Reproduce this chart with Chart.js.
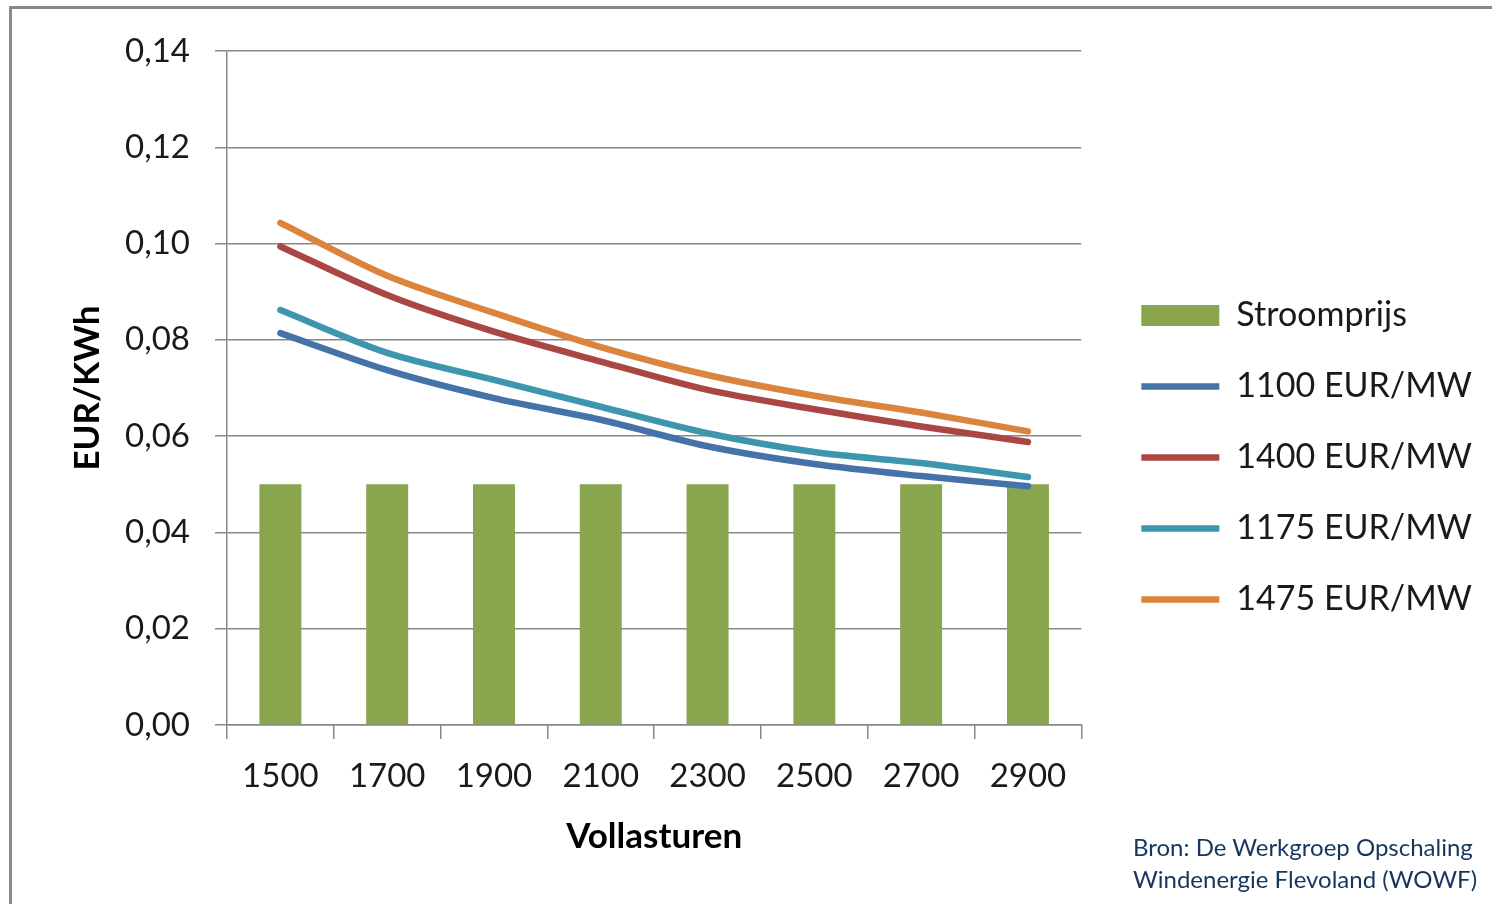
<!DOCTYPE html>
<html>
<head>
<meta charset="utf-8">
<script src="https://cdn.jsdelivr.net/npm/chart.js@4.4.0/dist/chart.umd.min.js"></script>
<style>
  html, body { margin: 0; padding: 0; background: #ffffff; }
  #wrap { position: relative; width: 1492px; height: 904px; overflow: hidden; }
  #frame { position: absolute; left: 9px; top: 6px; width: 1600px; height: 1000px;
           border-left: 3px solid #888888; border-top: 3px solid #888888; box-sizing: border-box; }
  #chartBox { position: absolute; left: 0; top: 0; width: 1492px; height: 904px; }
  #source { position: absolute; left: 1133px; top: 831px; font-family: Lato, sans-serif;
            font-size: 24px; line-height: 32px; color: #17365d; white-space: nowrap; }
</style>
</head>
<body>
<div id="wrap">
  <div id="frame"></div>
  <div id="chartBox"><canvas id="c"></canvas></div>
  <div id="source">Bron: De Werkgroep Opschaling<br>Windenergie Flevoland (WOWF)</div>
</div>
<script>
const categories = ['1500', '1700', '1900', '2100', '2300', '2500', '2700', '2900'];
const stroomprijs = [0.05, 0.05, 0.05, 0.05, 0.05, 0.05, 0.05, 0.05];
const eur1100 = [0.0814, 0.0737, 0.0679, 0.0634, 0.0579, 0.0542, 0.0517, 0.0496];
const eur1400 = [0.0994, 0.0893, 0.0817, 0.0755, 0.0696, 0.0656, 0.0620, 0.0588];
const eur1175 = [0.0862, 0.0773, 0.0717, 0.0661, 0.0606, 0.0567, 0.0544, 0.0515];
const eur1475 = [0.1043, 0.0933, 0.0856, 0.0785, 0.0727, 0.0684, 0.0649, 0.0610];
const seriesNames = ['Stroomprijs', '1100 EUR/MW', '1400 EUR/MW', '1175 EUR/MW', '1475 EUR/MW'];
const yTickMin = 0, yTickMax = 0.14, yTickStep = 0.02;

const FONT = 'Lato, "Open Sans", sans-serif';
const GRID = '#888888';

function lineDs(label, data, color) {
  return {
    type: 'line', label, data, order: 0,
    borderColor: color, backgroundColor: color,
    borderWidth: 6.5, borderCapStyle: 'round', borderJoinStyle: 'round',
    pointRadius: 0, pointHoverRadius: 0, tension: 0.3, fill: false,
    pointStyle: 'line'
  };
}

const chart = new Chart(document.getElementById('c'), {
  data: {
    labels: categories,
    datasets: [
      { type: 'bar', label: seriesNames[0], data: stroomprijs, order: 1,
        backgroundColor: '#89A54E', borderWidth: 0,
        barPercentage: 0.393, categoryPercentage: 1.0, pointStyle: 'rect' },
      lineDs(seriesNames[1], eur1100, '#4572A7'),
      lineDs(seriesNames[2], eur1400, '#AA4643'),
      lineDs(seriesNames[3], eur1175, '#3D96AE'),
      lineDs(seriesNames[4], eur1475, '#DB843D')
    ]
  },
  options: {
    responsive: true,
    maintainAspectRatio: false,
    animation: false,
    devicePixelRatio: 1,
    layout: { padding: { top: 51, bottom: 40, left: 0, right: 10 } },
    plugins: {
      tooltip: { enabled: false },
      legend: {
        position: 'right',
        align: 'center',
        maxWidth: 700,
        labels: {
          usePointStyle: true,
          pointStyleWidth: 78,
          boxHeight: 21,
          padding: 37,
          color: '#1a1a1a',
          font: { family: FONT, size: 34 },
          sort: (a, b) => a.datasetIndex - b.datasetIndex
        }
      }
    },
    scales: {
      x: {
        offset: true,
        grid: { display: true, drawOnChartArea: false, drawTicks: true, tickLength: 14,
                color: GRID, lineWidth: 1.5, offset: true },
        border: { display: true, color: GRID, width: 1.5 },
        ticks: { color: '#1a1a1a', font: { family: FONT, size: 33 }, padding: 18,
                 maxRotation: 0, autoSkip: false },
        title: { display: true, text: 'Vollasturen', color: '#000000',
                 font: { family: FONT, size: 35, weight: 'bold' }, padding: { top: 0, bottom: 6 } },
        afterFit: (s) => { s.height = 139; }
      },
      y: {
        min: yTickMin, max: yTickMax,
        grid: { display: true, drawOnChartArea: true, drawTicks: true, tickLength: 12,
                color: GRID, lineWidth: 1.5 },
        border: { display: true, color: GRID, width: 1.5 },
        ticks: { stepSize: yTickStep, color: '#1a1a1a', font: { family: FONT, size: 33 }, padding: 25,
                 callback: (v) => Number(v).toFixed(2).replace('.', ',') },
        title: { display: true, text: 'EUR/KWh', color: '#000000',
                 font: { family: FONT, size: 35, weight: 'bold' }, padding: { top: 67, bottom: 0 } },
        afterFit: (s) => { s.width = 227; }
      },
      gap: {
        type: 'linear', position: 'right', display: true,
        grid: { display: false, drawTicks: false },
        border: { display: false },
        ticks: { display: false },
        title: { display: false },
        afterFit: (s) => { s.width = 23; }
      }
    }
  }
});
</script>
</body>
</html>
